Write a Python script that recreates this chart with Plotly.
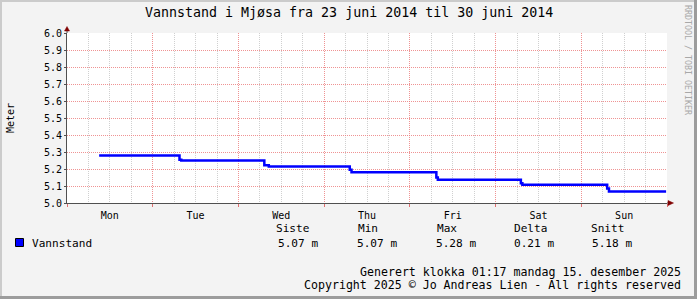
import plotly.graph_objects as go

# ---------------- data ----------------
times = ["2014-06-23 09:00", "2014-06-24 07:30", "2014-06-24 08:00",
         "2014-06-25 07:15", "2014-06-25 08:30", "2014-06-26 07:10",
         "2014-06-26 07:40", "2014-06-27 07:25", "2014-06-27 07:50",
         "2014-06-28 07:05", "2014-06-28 07:30", "2014-06-29 07:15",
         "2014-06-29 07:45", "2014-06-29 23:45"]
levels = [5.28, 5.255, 5.25, 5.222, 5.215, 5.195, 5.181, 5.15, 5.137,
          5.116, 5.107, 5.086, 5.068, 5.068]

x_range = ["2014-06-23 00:00", "2014-06-30 00:00"]
y_range = [5.0, 6.0]

title_text = "Vannstand i Mjøsa fra 23 juni 2014 til 30 juni 2014"
y_title = "Meter"
series_name = "Vannstand"
stat_labels = ["Siste", "Min", "Max", "Delta", "Snitt"]
stat_values = ["5.07 m", "5.07 m", "5.28 m", "0.21 m", "5.18 m"]
footer_lines = ["Generert klokka 01:17 mandag 15. desember 2025",
                "Copyright 2025 © Jo Andreas Lien - All rights reserved"]
watermark = "RRDTOOL / TOBI OETIKER"

# ---------------- layout geometry ----------------
W, H = 697, 299
L, R, T, B = 67, 30, 33, 96
PW, PH = W - L - R, H - T - B
FONT = "DejaVu Sans Mono"
AXIS = "#505050"
ARROW = "#800000"
MGRID = "rgba(235,120,120,0.8)"
GRID = "#d0d0d0"


def px(x):
    return (x - L) / PW


def py(y):
    return (H - B - y) / PH


fig = go.Figure()
fig.add_trace(go.Scatter(x=times, y=levels, mode="lines", line_shape="hv",
                         line=dict(color="#0000ff", width=2.5),
                         name=series_name, showlegend=False))

fig.update_layout(
    width=W, height=H,
    margin=dict(l=L, r=R, t=T, b=B, pad=0),
    paper_bgcolor="#f3f3f3", plot_bgcolor="#ffffff",
    font=dict(family=FONT, color="#000000", size=10),
    showlegend=False,
    xaxis=dict(type="date", range=x_range, tick0=x_range[0], dtick=86400000,
               tickformat="%a", ticklabelmode="period",
               showgrid=True, gridcolor=MGRID, griddash="1px,1px", gridwidth=1,
               minor=dict(dtick=21600000, showgrid=True, gridcolor=GRID,
                          griddash="1px,1px"),
               ticks="outside", ticklen=3, tickcolor="#e07070",
               showline=True, linecolor=AXIS, linewidth=1,
               tickfont=dict(family=FONT, size=10, color="#000"),
               fixedrange=True),
    yaxis=dict(range=y_range, tick0=5.0, dtick=0.1, tickformat=".1f",
               showgrid=True, gridcolor=MGRID, griddash="1px,1px", gridwidth=1,
               ticks="outside", ticklen=2, tickcolor=AXIS,
               showline=True, linecolor=AXIS, linewidth=1, zeroline=False,
               tickfont=dict(family=FONT, size=10, color="#000"),
               fixedrange=True),
)

shapes = []
# frame (shade)
shapes.append(dict(type="rect", xref="paper", yref="paper", x0=px(0), x1=px(2),
                   y0=py(0), y1=py(H), fillcolor="#cbcbcb", line=dict(width=0)))
shapes.append(dict(type="rect", xref="paper", yref="paper", x0=px(0), x1=px(W),
                   y0=py(0), y1=py(2), fillcolor="#cbcbcb", line=dict(width=0)))
shapes.append(dict(type="rect", xref="paper", yref="paper", x0=px(W - 3), x1=px(W),
                   y0=py(0), y1=py(H), fillcolor="#9c9c9c", line=dict(width=0)))
shapes.append(dict(type="rect", xref="paper", yref="paper", x0=px(0), x1=px(W),
                   y0=py(H - 3), y1=py(H), fillcolor="#9c9c9c", line=dict(width=0)))
# axis extensions and arrows
shapes.append(dict(type="line", xref="paper", yref="paper", x0=1, x1=px(669),
                   y0=0, y1=0, line=dict(color=AXIS, width=1)))
shapes.append(dict(type="path", xref="paper", yref="paper",
                   path=f"M {px(668)},{py(200.5)} L {px(673.5)},{py(203)} L {px(668)},{py(205.5)} Z",
                   fillcolor=ARROW, line=dict(color=ARROW, width=0.5)))
shapes.append(dict(type="line", xref="paper", yref="paper", x0=0, x1=0,
                   y0=1, y1=py(30), line=dict(color=AXIS, width=1)))
shapes.append(dict(type="path", xref="paper", yref="paper",
                   path=f"M {px(64.5)},{py(31)} L {px(67)},{py(26.5)} L {px(69.5)},{py(31)} Z",
                   fillcolor=ARROW, line=dict(color=ARROW, width=0.5)))
# legend swatch
shapes.append(dict(type="rect", xref="paper", yref="paper", x0=px(15.5), x1=px(23.5),
                   y0=py(238.5), y1=py(246.5), fillcolor="#0000ff",
                   line=dict(color="#000000", width=1)))
fig.update_layout(shapes=shapes)

ann = []
ann.append(dict(text=title_text, x=px(348.5), y=py(13), xref="paper", yref="paper",
                xanchor="center", yanchor="middle", showarrow=False,
                font=dict(family=FONT, size=13.3, color="#000")))
ann.append(dict(text=y_title, x=px(10), y=py(118), xref="paper", yref="paper",
                xanchor="center", yanchor="middle", showarrow=False, textangle=-90,
                font=dict(family=FONT, size=10, color="#000")))
ann.append(dict(text=watermark, x=px(688), y=py(60), xref="paper", yref="paper",
                xanchor="center", yanchor="middle", showarrow=False, textangle=90,
                font=dict(family=FONT, size=8.3, color="#a8a8a8")))
ann.append(dict(text=series_name, x=px(30), y=py(243), xref="paper", yref="paper",
                xanchor="left", yanchor="middle", showarrow=False,
                font=dict(family=FONT, size=11.1, color="#000")))
hdr_cx = [292.5, 368.5, 446.7, 530, 607]
val_cx = [297.8, 376.7, 455.7, 534.2, 612.2]
for lab, v, hx, vx in zip(stat_labels, stat_values, hdr_cx, val_cx):
    ann.append(dict(text=lab, x=px(hx), y=py(229), xref="paper", yref="paper",
                    xanchor="center", yanchor="middle", showarrow=False,
                    font=dict(family=FONT, size=11.1, color="#000")))
    ann.append(dict(text=v, x=px(vx), y=py(243), xref="paper", yref="paper",
                    xanchor="center", yanchor="middle", showarrow=False,
                    font=dict(family=FONT, size=11.1, color="#000")))
for line, yy in zip(footer_lines, [271.7, 285.3]):
    ann.append(dict(text=line, x=px(683), y=py(yy), xref="paper", yref="paper",
                    xanchor="right", yanchor="middle", showarrow=False,
                    font=dict(family=FONT, size=11.6, color="#000")))
fig.update_layout(annotations=ann)

fig.write_html("out.html", config={"displayModeBar": False})
